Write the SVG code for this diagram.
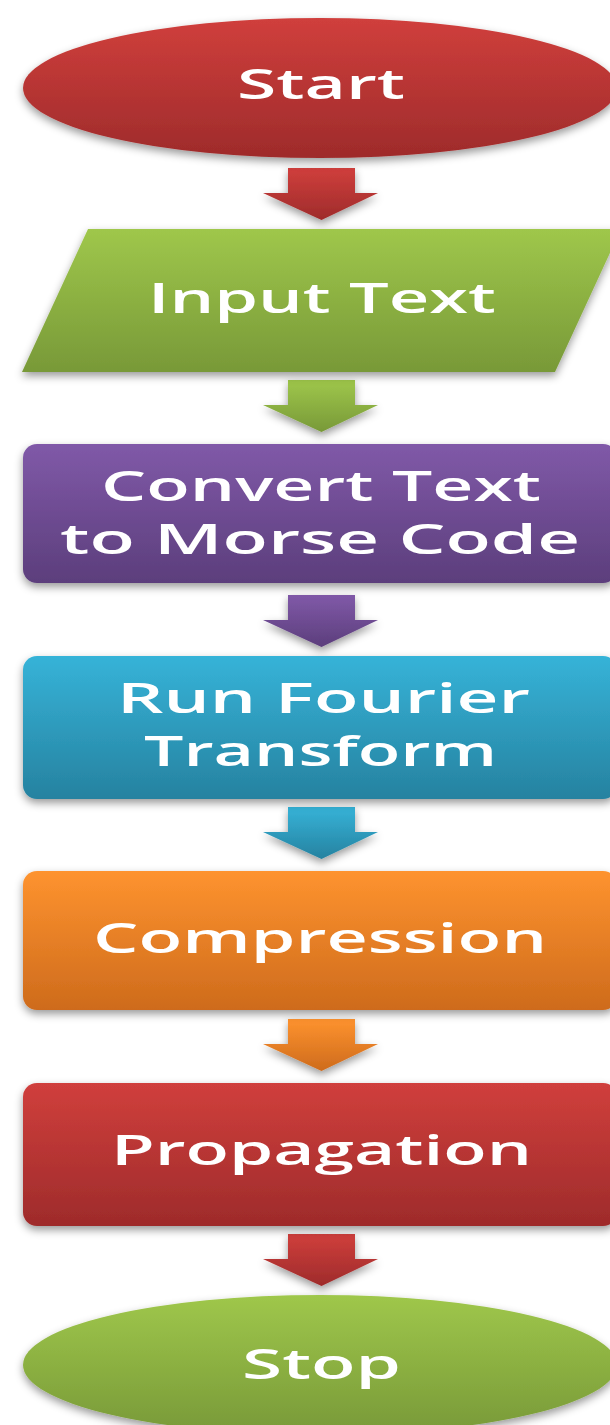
<svg xmlns="http://www.w3.org/2000/svg" width="610" height="1425" viewBox="0 0 610 1425">
<defs>
<linearGradient id="gRed" x1="0" y1="0" x2="0" y2="1"><stop offset="0" stop-color="#d03f3c"/><stop offset="1" stop-color="#9e2b2b"/></linearGradient>
<linearGradient id="gGreen" x1="0" y1="0" x2="0" y2="1"><stop offset="0" stop-color="#9fc74b"/><stop offset="1" stop-color="#789938"/></linearGradient>
<linearGradient id="gPurple" x1="0" y1="0" x2="0" y2="1"><stop offset="0" stop-color="#8059a8"/><stop offset="1" stop-color="#5c3e7c"/></linearGradient>
<linearGradient id="gBlue" x1="0" y1="0" x2="0" y2="1"><stop offset="0" stop-color="#36b3d8"/><stop offset="1" stop-color="#2682a0"/></linearGradient>
<linearGradient id="gOrange" x1="0" y1="0" x2="0" y2="1"><stop offset="0" stop-color="#fe932f"/><stop offset="1" stop-color="#ce6b1c"/></linearGradient>
<filter id="sh" x="-10%" y="-10%" width="120%" height="130%">
<feDropShadow dx="0" dy="4" stdDeviation="4" flood-color="#000" flood-opacity="0.4"/>
</filter>
<path id="arrow" d="M288,0 H355 V25 H378 L321.5,52 L263,25 H288 Z"/>
</defs>
<style>
.lbl{font-family:"Open Sans","DejaVu Sans",sans-serif;font-weight:600;font-size:42px;fill:#fff;text-anchor:middle}
.node{filter:url(#sh)}
</style>
<rect width="610" height="1425" fill="#fff"/>
<g id="connectors" filter="url(#sh)">
<use href="#arrow" y="168" fill="url(#gRed)"/>
<use href="#arrow" y="380" fill="url(#gGreen)"/>
<use href="#arrow" y="595" fill="url(#gPurple)"/>
<use href="#arrow" y="807" fill="url(#gBlue)"/>
<use href="#arrow" y="1019" fill="url(#gOrange)"/>
<use href="#arrow" y="1234" fill="url(#gRed)"/>
</g>
<g id="start">
<ellipse class="node" cx="320" cy="88" rx="297" ry="70" fill="url(#gRed)"/>
<text class="lbl" x="321" y="99" textLength="168" lengthAdjust="spacingAndGlyphs">Start</text>
</g>
<g id="input">
<polygon class="node" points="88,229 621,229 555,372 22,372" fill="url(#gGreen)"/>
<text class="lbl" x="322" y="313" textLength="348" lengthAdjust="spacingAndGlyphs">Input Text</text>
</g>
<g id="convert">
<rect class="node" x="23" y="444" width="594" height="139" rx="14" fill="url(#gPurple)"/>
<text class="lbl" x="321" y="501" textLength="440" lengthAdjust="spacingAndGlyphs">Convert Text</text>
<text class="lbl" x="320" y="554" textLength="520" lengthAdjust="spacingAndGlyphs">to Morse Code</text>
</g>
<g id="fourier">
<rect class="node" x="23" y="656" width="594" height="143" rx="14" fill="url(#gBlue)"/>
<text class="lbl" x="323.5" y="713" textLength="413" lengthAdjust="spacingAndGlyphs">Run Fourier</text>
<text class="lbl" x="320.5" y="766" textLength="353" lengthAdjust="spacingAndGlyphs">Transform</text>
</g>
<g id="compression">
<rect class="node" x="23" y="871" width="594" height="139" rx="14" fill="url(#gOrange)"/>
<text class="lbl" x="320" y="953" textLength="454" lengthAdjust="spacingAndGlyphs">Compression</text>
</g>
<g id="propagation">
<rect class="node" x="23" y="1083" width="594" height="143" rx="14" fill="url(#gRed)"/>
<text class="lbl" x="321.5" y="1165" textLength="421" lengthAdjust="spacingAndGlyphs">Propagation</text>
</g>
<g id="stop">
<ellipse class="node" cx="320" cy="1365" rx="297" ry="70" fill="url(#gGreen)"/>
<text class="lbl" x="321.5" y="1379" textLength="159" lengthAdjust="spacingAndGlyphs">Stop</text>
</g>
</svg>
